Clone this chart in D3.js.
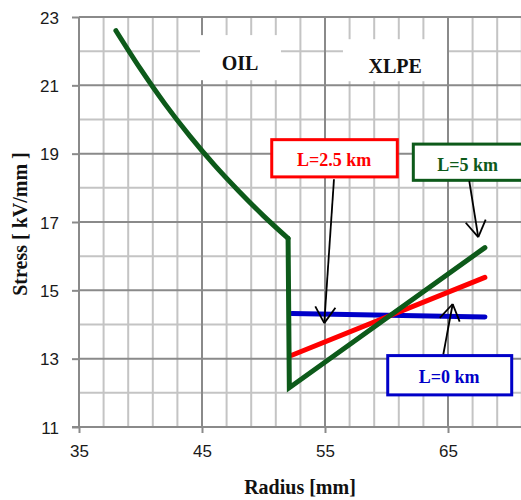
<!DOCTYPE html>
<html>
<head>
<meta charset="utf-8">
<script src="https://cdn.jsdelivr.net/npm/d3@7"></script>
<style>
  html, body { margin: 0; padding: 0; background: #fff; }
  svg { display: block; }
</style>
</head>
<body>
<svg id="chart" width="521" height="500"></svg>
<script>
// ---------- data ----------
const xTicks = [35, 45, 55, 65];
const yTicks = [11, 13, 15, 17, 19, 21, 23];

// L = 5 km curve (oil part, then XLPE part)
const oilRadius   = [38, 40, 42, 44, 46, 48, 50, 52];
const oilStress5  = [22.6, 21.48, 20.45, 19.52, 18.67, 17.9, 17.18, 16.52];
const xlpeRadius5 = [52.0, 52.1, 68];
const xlpeStress5 = [16.52, 12.15, 16.25];

// L = 2.5 km (XLPE part)
const xlpeRadius25 = [52.3, 68];
const xlpeStress25 = [13.1, 15.38];

// L = 0 km (XLPE part)
const xlpeRadius0 = [52.3, 68];
const xlpeStress0 = [14.32, 14.22];

const labels = ["OIL", "XLPE", "L=2.5 km", "L=5 km", "L=0 km"];

// ---------- layout ----------
const svg = d3.select("#chart");
const W = 521, H = 500;
const x = d3.scaleLinear().domain([35, 65]).range([79, 448]);
const y = d3.scaleLinear().domain([11, 23]).range([427, 17]);
const xMax = 73;

const minorCol = "#c4c4c4", majorCol = "#8a8a8a";

// minor grid
const g = svg.append("g");
d3.range(35, xMax, 2).forEach(v => {
  if ((v - 35) % 10 === 0) return;
  g.append("line").attr("x1", x(v)).attr("x2", x(v)).attr("y1", y(23)).attr("y2", y(11))
    .attr("stroke", minorCol).attr("stroke-width", 2);
});
d3.range(12, 23, 2).forEach(v => {
  g.append("line").attr("x1", x(35)).attr("x2", W + 5).attr("y1", y(v)).attr("y2", y(v))
    .attr("stroke", minorCol).attr("stroke-width", 2);
});
// major grid
d3.range(35, xMax, 10).forEach(v => {
  g.append("line").attr("x1", x(v)).attr("x2", x(v)).attr("y1", y(23)).attr("y2", y(11))
    .attr("stroke", majorCol).attr("stroke-width", 2);
});
yTicks.forEach(v => {
  g.append("line").attr("x1", x(35)).attr("x2", W + 5).attr("y1", y(v)).attr("y2", y(v))
    .attr("stroke", majorCol).attr("stroke-width", 2);
});

// axes
const xAxis = d3.axisBottom(x).tickValues(xTicks).tickSize(6).tickPadding(12).tickFormat(d3.format("d"));
const yAxis = d3.axisLeft(y).tickValues(yTicks).tickSize(7).tickPadding(13).tickFormat(d3.format("d"));
const gx = svg.append("g").attr("transform", `translate(0,${y(11)})`).call(xAxis);
const gy = svg.append("g").attr("transform", `translate(${x(35)},0)`).call(yAxis);
[gx, gy].forEach(a => {
  a.select(".domain").remove();
  a.selectAll(".tick line").attr("stroke", majorCol).attr("stroke-width", 2);
  a.selectAll(".tick text").attr("fill", "#1a1a1a")
    .style("font-family", "'Liberation Sans', Arial, sans-serif").style("font-size", "17px");
});
gy.selectAll(".tick text").attr("dy", "0.36em");
// axis lines
svg.append("line").attr("x1", x(35)).attr("x2", x(35)).attr("y1", y(23)).attr("y2", y(11))
  .attr("stroke", majorCol).attr("stroke-width", 2);
svg.append("line").attr("x1", x(35) - 7).attr("x2", W + 5).attr("y1", y(11)).attr("y2", y(11))
  .attr("stroke", majorCol).attr("stroke-width", 2);

// axis titles
const serif = "'Liberation Serif', 'Times New Roman', serif";
svg.append("text").attr("x", 300).attr("y", 494).attr("text-anchor", "middle")
  .style("font-family", serif).style("font-weight", "bold").style("font-size", "20px")
  .attr("fill", "#111").text("Radius [mm]");
svg.append("text").attr("transform", "translate(27,224) rotate(-90)").attr("text-anchor", "middle")
  .style("font-family", serif).style("font-weight", "bold").style("font-size", "20px")
  .attr("fill", "#111").text("Stress [ kV/mm ]");

// ---------- lines ----------
const line = d3.line().x(d => x(d[0])).y(d => y(d[1]));
const zip = (a, b) => a.map((v, i) => [v, b[i]]);

svg.append("path").datum(zip(xlpeRadius0, xlpeStress0)).attr("d", line)
  .attr("fill", "none").attr("stroke", "#0000c8").attr("stroke-width", 5).attr("stroke-linecap", "round");
svg.append("path").datum(zip(xlpeRadius25, xlpeStress25)).attr("d", line)
  .attr("fill", "none").attr("stroke", "#ff0000").attr("stroke-width", 5).attr("stroke-linecap", "round");
const oilCurve = d3.line().x(d => x(d[0])).y(d => y(d[1])).curve(d3.curveMonotoneX);
svg.append("path").datum(zip(oilRadius, oilStress5)).attr("d", oilCurve)
  .attr("fill", "none").attr("stroke", "#0d5a1a").attr("stroke-width", 5).attr("stroke-linecap", "round");
svg.append("path").datum(zip(xlpeRadius5, xlpeStress5)).attr("d", line)
  .attr("fill", "none").attr("stroke", "#0d5a1a").attr("stroke-width", 5)
  .attr("stroke-linecap", "round").attr("stroke-linejoin", "miter");

// ---------- annotations (data units) ----------
function box(x0, x1, y0, y1, stroke, txt, color, tx, ty, size) {
  svg.append("rect").attr("x", x(x0)).attr("y", y(y0)).attr("width", x(x1) - x(x0))
    .attr("height", y(y1) - y(y0)).attr("fill", "#fff")
    .attr("stroke", stroke || "none").attr("stroke-width", stroke ? 3 : 0);
  svg.append("text").attr("x", x(tx)).attr("y", y(ty)).attr("text-anchor", "middle")
    .style("font-family", serif).style("font-weight", "bold").style("font-size", size + "px")
    .attr("fill", color).text(txt);
}
function arrow(x0, y0, x1, y1) {
  const p0 = [x(x0), y(y0)], p1 = [x(x1), y(y1)];
  svg.append("line").attr("x1", p0[0]).attr("y1", p0[1]).attr("x2", p1[0]).attr("y2", p1[1])
    .attr("stroke", "#000").attr("stroke-width", 1.8);
  const ang = Math.atan2(p0[1] - p1[1], p0[0] - p1[0]);
  const L = 19, spread = 0.56;
  [ang - spread, ang + spread].forEach(a => {
    svg.append("line").attr("x1", p1[0]).attr("y1", p1[1])
      .attr("x2", p1[0] + L * Math.cos(a)).attr("y2", p1[1] + L * Math.sin(a))
      .attr("stroke", "#000").attr("stroke-width", 1.8);
  });
}

box(44.84, 51.42, 22.47, 21.15, null, labels[0], "#111", 48.1, 21.45, 20);
box(56.46, 64.92, 22.35, 21.12, null, labels[1], "#111", 60.7, 21.35, 20);
box(50.67, 60.88, 19.41, 18.32, "#ff0000", labels[2], "#ff0000", 55.75, 18.63, 18);
box(62.18, 71.9, 19.28, 18.22, "#0d5a1a", labels[3], "#0d5a1a", 66.6, 18.5, 18);
box(60.1, 70.18, 13.09, 11.94, "#0000c8", labels[4], "#0000c8", 65.1, 12.3, 18);

arrow(55.73, 18.25, 54.94, 14.04);
arrow(66.73, 18.2, 67.46, 16.56);
arrow(64.62, 13.13, 65.38, 14.6);
</script>
</body>
</html>
